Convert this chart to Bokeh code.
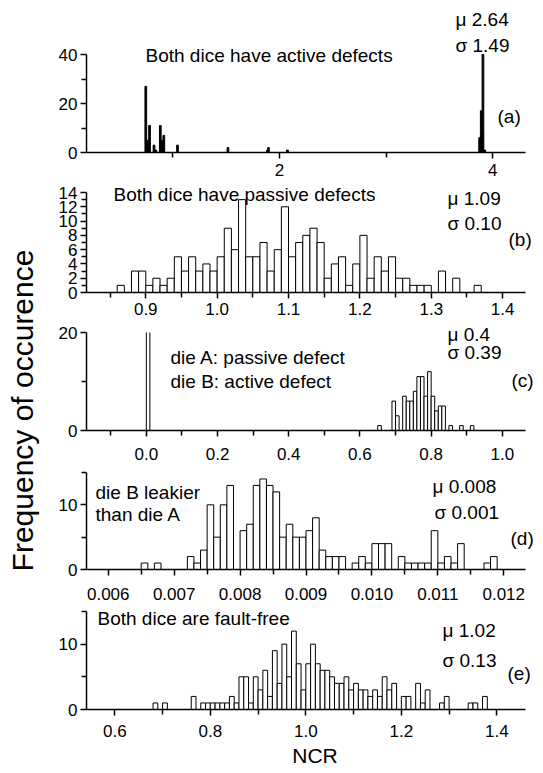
import numpy as np
from bokeh.plotting import figure
from bokeh.layouts import row, column
from bokeh.models import FixedTicker, PrintfTickFormatter, Label, Range1d
from bokeh.embed import file_html
from bokeh.resources import INLINE

FONT = "Liberation Sans"

# ---------------- data ----------------
# (a) Both dice have active defects: bin centres and counts
a_centers = [0.747, 0.764, 0.782, 0.824, 0.841, 0.883, 0.899, 0.916, 1.044,
             1.517, 1.888, 1.897, 2.075, 3.877, 3.892, 3.900, 3.908, 3.925]
a_counts = [27, 5, 11, 3, 1, 11, 5, 7, 3, 2, 1, 2, 1, 6, 17, 8, 40, 1]
a_width = 0.016

# (b) Both dice have passive defects: consecutive bins from 0.86, width 0.01
b_start, b_width = 0.86, 0.01
b_counts = [1, 0, 3, 3, 1, 2, 1, 2, 5, 3, 5, 3, 4, 3, 5, 9, 6, 13, 5, 5, 7, 3, 6,
            12, 5, 7, 8, 9, 7, 2, 4, 5, 1, 4, 8, 2, 5, 3, 5, 2, 2, 1, 1, 1, 0, 3,
            0, 2, 0, 0, 1]

# (c) die A passive / die B active: bin left edges and counts
c_left = [0.00, 0.65, 0.69, 0.70, 0.72, 0.73, 0.74, 0.75, 0.76, 0.77, 0.78,
          0.79, 0.80, 0.81, 0.82, 0.83, 0.85, 0.88, 0.91]
c_counts = [94, 1, 6, 3, 7, 6, 6, 8, 11, 11, 7, 12, 7, 4, 5, 5, 1, 1, 1]
c_width = 0.01

# (d) die B leakier than die A: consecutive bins from 0.0065, width 0.0001
d_start, d_width = 0.0065, 0.0001
d_counts = [1, 0, 1, 0, 0, 0, 0, 2, 1, 3, 10, 5, 10, 13, 0, 6, 7, 13, 14, 13, 12,
            5, 7, 5, 5, 6, 8, 3, 2, 2, 2, 0, 1, 2, 1, 4, 4, 4, 0, 2, 1, 1, 1, 1,
            6, 1, 2, 1, 4, 0, 0, 0, 1, 2]

# (e) Both dice are fault-free: consecutive bins from 0.68, width 0.01
e_start, e_width = 0.68, 0.01
e_counts = [1, 0, 1, 0, 0, 0, 0, 0, 2, 0, 1, 1, 1, 1, 1, 1, 2, 1, 5, 5, 1, 5, 3,
            6, 2, 9, 4, 10, 5, 12, 7, 3, 7, 10, 7, 6, 6, 5, 4, 4, 5, 3, 4, 3, 3,
            2, 3, 2, 5, 3, 4, 0, 2, 2, 0, 4, 1, 3, 0, 0, 1, 2, 0, 0, 0, 0, 1, 1,
            0, 2]

stats = {"a": ("\u03bc 2.64", "\u03c3 1.49"), "b": ("\u03bc 1.09", "\u03c3 0.10"),
         "c": ("\u03bc 0.4", "\u03c3 0.39"), "d": ("\u03bc 0.008", "\u03c3 0.001"),
         "e": ("\u03bc 1.02", "\u03c3 0.13")}

# ---------------- layout (page px) ----------------
TITLE_W = 40
FRAME_L = 86          # left of every frame (y axis)
AXIS_R = 525          # right end of every x axis
FRAME_R = 543         # frame extends to the page edge (room for "(a)" etc.)
AXIS_W = AXIS_R - FRAME_L
FRAME_W = FRAME_R - FRAME_L


def panel(xr, ytop, canvas, frame_top, axis_top, axis_bottom, xmaj, xmin_, xfmt,
          ymaj, ymin_, standoff):
    x0, x1 = xr
    ppy = (axis_bottom - axis_top) / ytop
    fh = axis_bottom - frame_top
    y_end = fh / ppy
    x_end = x0 + (x1 - x0) * FRAME_W / AXIS_W
    p = figure(frame_width=FRAME_W, frame_height=fh,
               min_border_left=FRAME_L - TITLE_W, min_border_right=0,
               min_border_top=frame_top - canvas[0],
               min_border_bottom=canvas[1] - axis_bottom,
               x_range=Range1d(x0, x_end), y_range=Range1d(0, y_end),
               toolbar_location=None, output_backend="svg")
    p.xgrid.visible = False
    p.ygrid.visible = False
    p.outline_line_color = None
    p.background_fill_color = "white"
    p.border_fill_color = "white"
    p.xaxis.ticker = FixedTicker(ticks=xmaj, minor_ticks=xmin_)
    p.yaxis.ticker = FixedTicker(ticks=ymaj, minor_ticks=ymin_)
    p.xaxis.formatter = PrintfTickFormatter(format=xfmt)
    p.xaxis.bounds = (x0, x1)
    p.yaxis.bounds = (0, ytop)
    for ax in (p.xaxis, p.yaxis):
        ax.axis_line_width = 1.5
        ax.axis_line_color = "black"
        ax.major_tick_line_width = 1.5
        ax.minor_tick_line_width = 1.5
        ax.major_tick_line_color = "black"
        ax.minor_tick_line_color = "black"
        ax.major_tick_in = 0
        ax.minor_tick_in = 0
        ax.major_tick_out = 6
        ax.minor_tick_out = 5
        ax.major_label_text_font = FONT
        ax.major_label_text_font_size = "17px"
        ax.major_label_text_color = "black"
    p.xaxis.major_label_standoff = standoff
    p.yaxis.major_label_standoff = 3
    p._geom = (frame_top, axis_bottom, fh)
    return p


def add_text(p, X, Y, text, size="19px", align="left"):
    frame_top, axis_bottom, fh = p._geom
    xr, yr = p.x_range, p.y_range
    x = xr.start + (X - FRAME_L) / FRAME_W * (xr.end - xr.start)
    y = yr.start + (axis_bottom - Y) / fh * (yr.end - yr.start)
    p.add_layout(Label(x=x, y=y, text=text, text_font=FONT, text_font_size=size,
                       text_align=align, text_baseline="middle", text_color="black"))


def bars(p, left, counts, width, ymax, fill="white"):
    left = np.asarray(left, dtype=float)
    counts = np.asarray(counts, dtype=float)
    full = (counts > 0) & (counts <= ymax)
    over = counts > ymax
    p.quad(left=left[full], right=left[full] + width, bottom=0, top=counts[full],
           fill_color=fill, line_color="black", line_width=1)
    if over.any():
        l = left[over]
        r = l + width
        p.quad(left=l, right=r, bottom=0, top=ymax, fill_color=fill, line_color=None)
        p.segment(x0=l, y0=0, x1=l, y1=ymax, line_color="black", line_width=1)
        p.segment(x0=r, y0=0, x1=r, y1=ymax, line_color="black", line_width=1)


# (a)
pa = panel((0.191, 4.307), 40, (0, 183), 2, 54, 152, [2, 4], [1, 3], "%d",
           [0, 20, 40], [10, 30], 5)
bars(pa, np.array(a_centers) - a_width / 2, a_counts, a_width, 40, fill="black")
add_text(pa, 145, 55, "Both dice have active defects")
add_text(pa, 455, 19, stats["a"][0])
add_text(pa, 455, 45, stats["a"][1])
add_text(pa, 497, 116, "(a)")

# (b)
pb = panel((0.817, 1.432), 14, (183, 322), 183, 192, 292,
           [0.9, 1.0, 1.1, 1.2, 1.3, 1.4], [0.85, 0.95, 1.05, 1.15, 1.25, 1.35],
           "%.1f", list(range(0, 15, 2)), list(range(1, 14, 2)), 4)
bars(pb, b_start + b_width * np.arange(len(b_counts)), b_counts, b_width, 14)
add_text(pb, 113, 194, "Both dice have passive defects")
add_text(pb, 447, 198, stats["b"][0])
add_text(pb, 447, 223, stats["b"][1])
add_text(pb, 508, 239, "(b)")

# (c)
pc = panel((-0.168, 1.065), 20, (322, 467), 322, 332, 430,
           [0.0, 0.2, 0.4, 0.6, 0.8, 1.0], [-0.1, 0.1, 0.3, 0.5, 0.7, 0.9],
           "%.1f", [0, 20], [10], 11)
bars(pc, c_left, c_counts, c_width, 20)
add_text(pc, 170, 357, "die A: passive defect")
add_text(pc, 170, 381, "die B: active defect")
add_text(pc, 447, 334, stats["c"][0])
add_text(pc, 447, 352, stats["c"][1])
add_text(pc, 511, 380, "(c)")

# (d)
pd_ = panel((0.00567, 0.01233), 15, (467, 607), 467, 472, 569,
            [0.006, 0.007, 0.008, 0.009, 0.010, 0.011, 0.012],
            [0.0065, 0.0075, 0.0085, 0.0095, 0.0105, 0.0115],
            "%.3f", [0, 10], [5, 15], 12)
bars(pd_, d_start + d_width * np.arange(len(d_counts)), d_counts, d_width, 15)
add_text(pd_, 95, 492, "die B leakier")
add_text(pd_, 95, 514, "than die A")
add_text(pd_, 432, 486, stats["d"][0])
add_text(pd_, 434, 512, stats["d"][1])
add_text(pd_, 510, 538, "(d)")

# (e)
pe = panel((0.5407, 1.46), 15, (607, 773), 607, 611, 709,
           [0.6, 0.8, 1.0, 1.2, 1.4], [0.7, 0.9, 1.1, 1.3],
           "%.1f", [0, 10], [5, 15], 9)
bars(pe, e_start + e_width * np.arange(len(e_counts)), e_counts, e_width, 15)
add_text(pe, 97, 618, "Both dice are fault-free")
add_text(pe, 442, 630, stats["e"][0])
add_text(pe, 442, 660, stats["e"][1])
add_text(pe, 507, 673, "(e)")
pe.xaxis.axis_label = "NCR"
pe.xaxis.axis_label_text_font = FONT
pe.xaxis.axis_label_text_font_size = "21px"
pe.xaxis.axis_label_text_font_style = "normal"
pe.xaxis.axis_label_text_color = "black"
pe.xaxis.axis_label_standoff = 4

# y-axis title column
pt = figure(width=TITLE_W, height=773, min_border=0, x_range=Range1d(0, TITLE_W),
            y_range=Range1d(0, 773), x_axis_type=None, y_axis_type=None,
            toolbar_location=None, output_backend="svg")
pt.grid.visible = False
pt.outline_line_color = None
pt.add_layout(Label(x=22, y=773 - 410, text="Frequency of occurence", angle=np.pi / 2,
                    text_font=FONT, text_font_size="30px", text_align="center",
                    text_baseline="middle", text_color="black"))

layout = row(pt, column(pa, pb, pc, pd_, pe))
open("out.html", "w").write(file_html(layout, INLINE))
